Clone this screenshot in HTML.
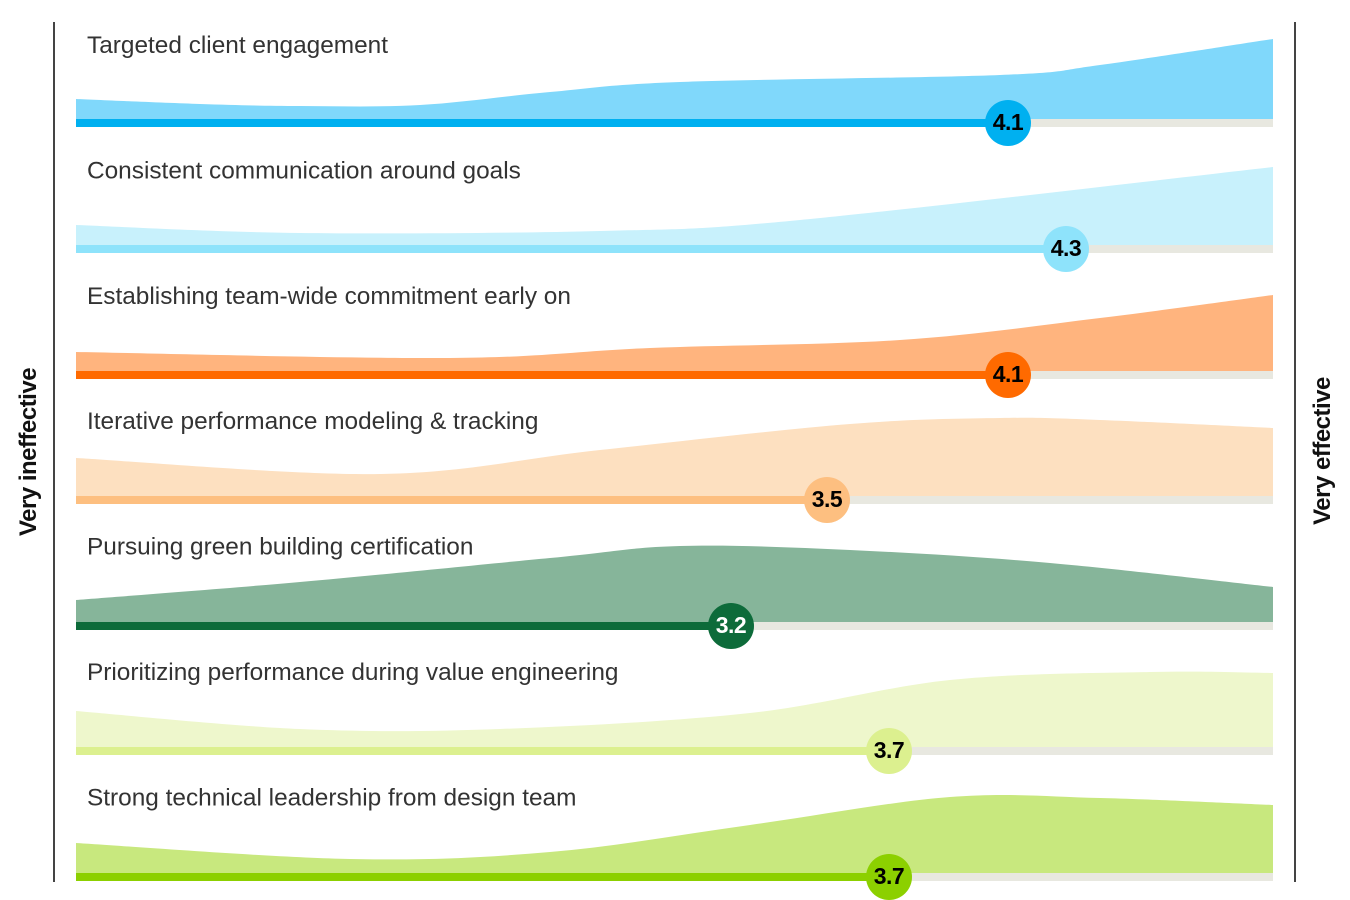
<!DOCTYPE html>
<html><head><meta charset="utf-8"><style>
html,body{margin:0;padding:0;background:#fff}
svg{display:block}
text{font-family:"Liberation Sans",sans-serif}
</style></head><body>
<svg id="s" width="1350" height="900" viewBox="0 0 1350 900">
<line x1="54" y1="22" x2="54" y2="882" stroke="#444" stroke-width="2"/>
<line x1="1295" y1="22" x2="1295" y2="882" stroke="#444" stroke-width="2"/>
<text transform="translate(36,452) rotate(-90)" text-anchor="middle" font-size="24" font-weight="bold" fill="#111" letter-spacing="-0.5">Very ineffective</text>
<text transform="translate(1330,451) rotate(-90)" text-anchor="middle" font-size="24" font-weight="bold" fill="#111" letter-spacing="-0.5">Very effective</text>
<g id="g"></g>
</svg>
<script>
var rows=[
["Targeted client engagement",119,"#80d8fb","#00b0f0",1008,"4.1","#000",[[76,99],[200,104],[300,106],[420,105],[550,92],[680,82],[1000,75],[1100,65],[1273,39]]],
["Consistent communication around goals",245,"#c8f1fc","#8ee3fb",1066,"4.3","#000",[[76,225],[300,233],[600,231],[800,220],[1273,167]]],
["Establishing team-wide commitment early on",371,"#ffb47e","#ff6a00",1008,"4.1","#000",[[76,352],[450,358],[650,348],[900,340],[1100,318],[1273,295]]],
["Iterative performance modeling & tracking",496,"#fde0c0","#fdbf80",827,"3.5","#000",[[76,458],[380,474],[600,450],[850,424],[1000,418],[1100,420],[1273,428]]],
["Pursuing green building certification",622,"#86b59a","#0d6b3a",731,"3.2","#fff",[[76,600],[300,582],[550,558],[680,546],[850,550],[1050,563],[1273,587]]],
["Prioritizing performance during value engineering",747,"#eef7cc","#dcf08f",889,"3.7","#000",[[76,711],[300,729],[500,729],[750,713],[950,680],[1150,672],[1273,673]]],
["Strong technical leadership from design team",873,"#c8e87e","#8cd000",889,"3.7","#000",[[76,843],[350,859],[550,852],[750,825],[950,797],[1100,798],[1273,805]]]];
function smooth(p){var d="M"+p[0][0]+","+p[0][1];for(var i=0;i<p.length-1;i++){var p0=p[i-1]||p[i],p1=p[i],p2=p[i+1],p3=p[i+2]||p2;
var c1x=p1[0]+(p2[0]-p0[0])/6,c1y=p1[1]+(p2[1]-p0[1])/6,c2x=p2[0]-(p3[0]-p1[0])/6,c2y=p2[1]-(p3[1]-p1[1])/6;
d+=" C"+c1x+","+c1y+" "+c2x+","+c2y+" "+p2[0]+","+p2[1];}return d;}
var h="";rows.forEach(function(r,i){var b=r[1],ty=53+i*125.4;
h+='<text x="87" y="'+ty+'" font-size="24.4" fill="#333">'+r[0].replace("&","&amp;")+'</text>';
h+='<path d="'+smooth(r[7])+' L1273,'+b+' L76,'+b+' Z" fill="'+r[2]+'"/>';
h+='<rect x="76" y="'+b+'" width="1197" height="8" fill="#e8e8e0"/>';
h+='<rect x="76" y="'+b+'" width="'+(r[4]-76)+'" height="8" fill="'+r[3]+'"/>';
h+='<circle cx="'+r[4]+'" cy="'+(b+4)+'" r="23" fill="'+r[3]+'"/>';
h+='<text x="'+r[4]+'" y="'+(b+11)+'" text-anchor="middle" font-size="23" font-weight="bold" fill="'+r[6]+'" letter-spacing="-0.5">'+r[5]+'</text>';});
document.getElementById("g").innerHTML=h;
</script>
</body></html>
